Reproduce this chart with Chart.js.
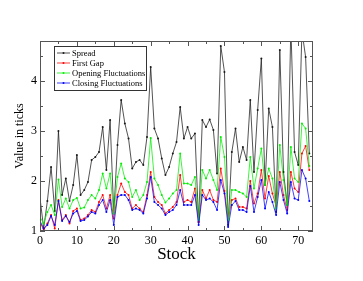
<!DOCTYPE html>
<html><head><meta charset="utf-8">
<script src="https://cdn.jsdelivr.net/npm/chart.js@4/dist/chart.umd.min.js"></script>
<style>html,body{margin:0;padding:0;background:#fff}#wrap{width:363px;height:281px}</style>
</head><body><div id="wrap"><canvas id="c" width="363" height="281"></canvas></div>
<script>
const stocks = [0,1,2,3,4,5,6,7,8,9,10,11,12,13,14,15,16,17,18,19,20,21,22,23,24,25,26,27,28,29,30,31,32,33,34,35,36,37,38,39,40,41,42,43,44,45,46,47,48,49,50,51,52,53,54,55,56,57,58,59,60,61,62,63,64,65,66,67,68,69,70,71,72,73];
const spread = [1.66,1.05,1.6,2.28,1.4,3.0,1.72,2.05,1.6,1.92,2.52,1.72,1.82,1.98,2.42,2.48,2.58,3.08,2.22,3.22,1.35,2.72,3.62,3.15,2.85,2.25,2.38,2.42,2.32,2.88,4.28,3.05,2.85,2.45,2.12,2.28,2.55,2.78,3.48,2.85,3.08,2.85,2.95,1.18,3.22,3.08,3.23,3.02,2.15,4.7,4.18,1.12,2.58,3.05,2.38,2.68,2.42,3.62,2.18,3.42,4.45,1.92,3.45,3.08,1.38,4.62,2.18,1.52,5.1,2.58,2.32,5.0,4.48,2.55];
const firstGap = [1.18,1.02,1.15,1.32,1.05,1.62,1.22,1.32,1.15,1.4,1.45,1.22,1.25,1.32,1.42,1.38,1.58,1.72,1.45,1.72,1.25,1.72,1.95,1.78,1.72,1.45,1.52,1.45,1.38,1.72,2.18,1.68,1.58,1.52,1.35,1.42,1.48,1.58,2.12,1.58,1.62,1.58,1.85,1.18,1.82,1.65,1.82,1.62,1.58,2.25,1.8,1.22,1.62,1.65,1.48,1.48,1.45,2.0,1.55,1.75,2.22,1.65,2.1,1.75,1.5,2.18,1.72,1.42,2.18,1.85,1.78,2.55,2.7,2.22];
const openingFluct = [1.28,1.15,1.38,1.52,1.32,2.03,1.48,1.65,1.45,1.62,1.66,1.45,1.47,1.62,1.72,1.65,1.82,2.15,1.85,2.15,1.35,2.08,2.35,2.05,1.98,1.68,1.82,1.62,1.72,1.98,2.86,2.05,1.92,1.72,1.57,1.65,1.75,1.82,2.55,1.95,1.95,1.92,2.08,1.22,2.22,2.05,2.22,2.02,1.82,2.88,2.48,1.22,1.82,1.82,1.78,1.75,1.68,2.48,1.85,2.25,2.65,1.92,2.25,2.05,1.45,2.72,2.02,1.52,2.68,2.05,1.98,3.15,3.05,2.3];
const closingFluct = [1.2,1.05,1.12,1.3,1.12,1.6,1.2,1.3,1.18,1.35,1.4,1.2,1.22,1.29,1.38,1.35,1.52,1.62,1.38,1.62,1.12,1.68,1.72,1.72,1.62,1.42,1.45,1.42,1.35,1.65,2.08,1.58,1.52,1.45,1.32,1.38,1.42,1.52,1.82,1.52,1.52,1.52,1.72,1.12,1.72,1.62,1.65,1.58,1.42,2.02,1.75,1.08,1.52,1.6,1.42,1.42,1.38,1.9,1.38,1.68,2.02,1.45,1.78,1.58,1.32,1.98,1.62,1.35,1.98,1.65,1.62,2.22,2.05,1.6];
const seriesNames = ['Spread','First Gap','Opening Fluctuations','Closing Fluctuations'];
const xTicks = [0,10,20,30,40,50,60,70];
const yTicks = [1,2,3,4];

const FONT = 'Liberation Serif, Times New Roman, serif';
function pts(arr){ return arr.map((v,i)=>({x:stocks[i], y:v})); }
function ds(label, arr, color, order){
  return {label, data: pts(arr), borderColor: color, backgroundColor: color,
    borderWidth: 0.75, pointRadius: 1.0, pointBorderWidth: 0, pointBackgroundColor: color,
    tension: 0, order};
}

const framePlugin = {
  id: 'frame',
  afterDatasetsDraw(chart){
    const ctx = chart.ctx, a = chart.chartArea, xs = chart.scales.x, ys = chart.scales.y;
    ctx.save();
    ctx.strokeStyle = '#555'; ctx.lineWidth = 1;
    ctx.strokeRect(a.left+0.5, a.top+0.5, a.right-a.left-1, a.bottom-a.top-1);
    ctx.beginPath();
    for (let v = 0; v <= xs.max; v += 5) {
      const p = Math.round(xs.getPixelForValue(v))+0.5;
      const L = (v % 10 === 0) ? 5 : 3;
      ctx.moveTo(p, a.bottom); ctx.lineTo(p, a.bottom-L);
      ctx.moveTo(p, a.top); ctx.lineTo(p, a.top+L);
    }
    for (let v = 1; v <= ys.max; v += 0.5) {
      const p = Math.round(ys.getPixelForValue(v))+0.5;
      const L = (Math.abs(v - Math.round(v)) < 1e-6) ? 5 : 3;
      ctx.moveTo(a.left, p); ctx.lineTo(a.left+L, p);
      ctx.moveTo(a.right, p); ctx.lineTo(a.right-L, p);
    }
    ctx.stroke();
    // legend
    const lx = a.left + 14, ly = a.top + 5, lw = 92, lh = 44;
    ctx.fillStyle = '#fff';
    ctx.fillRect(lx, ly, lw, lh);
    ctx.strokeStyle = '#333';
    ctx.strokeRect(lx+0.5, ly+0.5, lw, lh);
    ctx.font = '8.5px ' + FONT;
    ctx.textBaseline = 'middle';
    chart.data.datasets.forEach((d, i) => {
      const y = ly + 7 + i*10;
      ctx.strokeStyle = d.borderColor; ctx.lineWidth = 0.75;
      ctx.beginPath(); ctx.moveTo(lx+3, y); ctx.lineTo(lx+16, y); ctx.stroke();
      ctx.fillStyle = d.borderColor;
      ctx.beginPath(); ctx.arc(lx+9.5, y, 1.0, 0, Math.PI*2); ctx.fill();
      ctx.fillStyle = '#000';
      ctx.fillText(d.label, lx+18, y+0.5);
    });
    ctx.restore();
  }
};

new Chart(document.getElementById('c'), {
  type: 'line',
  data: { datasets: [
    ds(seriesNames[0], spread, '#1a1a1a', 3),
    ds(seriesNames[1], firstGap, '#ff0000', 2),
    ds(seriesNames[2], openingFluct, '#00ee00', 1),
    ds(seriesNames[3], closingFluct, '#0000ff', 0)
  ]},
  options: {
    responsive: false, animation: false, devicePixelRatio: 1,
    layout: { padding: { left: 0, right: 50, top: 41, bottom: 0 } },
    plugins: { legend: { display: false }, tooltip: { enabled: false } },
    scales: {
      x: { type: 'linear', min: 0, max: 74,
        grid: { display: false, drawTicks: false }, border: { display: false },
        afterBuildTicks(s){ s.ticks = xTicks.map(v=>({value:v})); },
        ticks: { font: { family: FONT, size: 12 }, color: '#000', padding: 3, maxRotation: 0, autoSkip: false },
        title: { display: true, text: 'Stock', font: { family: FONT, size: 17 }, color: '#000', padding: { top: 0, bottom: 16 } },
        afterFit(s){ s.height = 50; }
      },
      y: { type: 'linear', min: 1, max: 4.8,
        grid: { display: false, drawTicks: false }, border: { display: false },
        afterBuildTicks(s){ s.ticks = yTicks.map(v=>({value:v})); },
        ticks: { font: { family: FONT, size: 12 }, color: '#000', padding: 3, autoSkip: false },
        title: { display: true, text: 'Value in ticks', font: { family: FONT, size: 12 }, color: '#000', padding: { top: 13, bottom: 0 } },
        afterFit(s){ s.width = 40; }
      }
    }
  },
  plugins: [framePlugin]
});
</script>
</body></html>
